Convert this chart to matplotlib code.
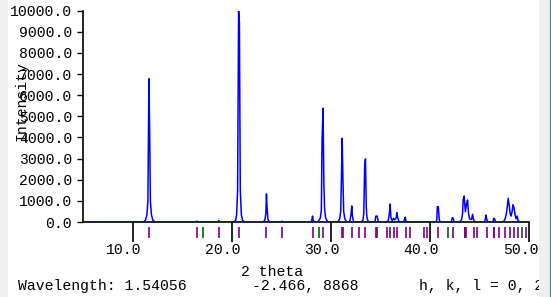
import matplotlib
matplotlib.use("Agg")
import matplotlib.pyplot as plt
from matplotlib.patches import Rectangle
from matplotlib.lines import Line2D
from matplotlib.transforms import ScaledTranslation

two_theta = [
    5.0, 11.1, 11.3, 11.45, 11.55, 11.65, 11.72, 11.8, 11.9, 12.05, 12.3,
    16.4, 16.5, 16.6, 18.6, 18.7, 18.8,
    20.2, 20.4, 20.5, 20.6, 20.7, 20.78, 20.87, 20.98, 21.1, 21.3,
    23.2, 23.35, 23.45, 23.51, 23.56, 23.65, 23.8,
    25.0, 25.08, 25.15,
    28.0, 28.1, 28.16, 28.22, 28.35,
    28.7, 28.95, 29.05, 29.12, 29.22, 29.3, 29.38, 29.48, 29.7,
    30.7, 30.9, 31.0, 31.08, 31.15, 31.22, 31.3, 31.42, 31.6,
    31.85, 31.95, 32.05, 32.12, 32.18, 32.3,
    33.1, 33.25, 33.33, 33.42, 33.5, 33.58, 33.65, 33.8,
    34.45, 34.55, 34.68, 34.8,
    35.6, 35.8, 35.92, 35.99, 36.07, 36.2, 36.33, 36.45, 36.6, 36.67, 36.75, 36.9,
    37.35, 37.45, 37.52, 37.6,
    40.6, 40.7, 40.75, 40.85, 40.95, 41.05,
    42.15, 42.25, 42.35, 42.45,
    43.0, 43.2, 43.3, 43.36, 43.46, 43.58, 43.7, 43.8, 43.9, 44.0, 44.2, 44.31, 44.4, 44.55,
    45.5, 45.6, 45.67, 45.75, 45.85,
    46.35, 46.45, 46.55, 46.65,
    47.4, 47.6, 47.75, 47.9, 48.0, 48.1, 48.18, 48.3, 48.38, 48.5, 48.6, 48.7, 48.8, 48.9, 49.1,
    50.0,
]
counts = [
    0, 0, 80, 350, 1000, 6780, 4450, 1000, 350, 80, 0,
    0, 40, 0, 0, 70, 0,
    0, 80, 330, 1500, 10000, 9430, 1500, 330, 80, 0,
    0, 100, 400, 1330, 800, 150, 0,
    0, 40, 0,
    0, 120, 280, 80, 0,
    0, 190, 570, 3850, 5390, 1860, 570, 190, 0,
    0, 150, 500, 2150, 3965, 2150, 500, 150, 0,
    0, 100, 410, 760, 300, 0,
    0, 100, 410, 2700, 2985, 700, 200, 0,
    0, 280, 280, 0,
    0, 60, 440, 850, 200, 60, 175, 100, 200, 440, 200, 0,
    0, 150, 230, 0,
    0, 100, 725, 725, 100, 0,
    0, 190, 190, 0,
    0, 120, 400, 1075, 1230, 490, 850, 1040, 410, 150, 120, 365, 120, 0,
    0, 150, 330, 100, 0,
    0, 175, 120, 0,
    0, 150, 490, 1120, 800, 400, 280, 500, 820, 650, 330, 150, 280, 60, 0,
    0,
]

# reflection positions
refl_phase1 = [11.65, 16.50, 18.72, 20.74, 23.51, 25.08, 28.21, 29.19, 31.12, 31.20,
               32.19, 32.86, 33.46, 34.57, 34.67, 35.63, 35.99, 36.33, 36.67, 37.55,
               37.95, 39.42, 39.75, 40.86, 42.35, 43.50, 43.58, 43.66, 44.42, 44.78,
               45.73, 46.42, 46.50, 47.02, 47.53, 48.11, 48.51, 48.89, 49.72]
refl_phase2 = [17.10, 28.82, 41.85, 49.26]

x_ticks = [10, 20, 30, 40, 50]
y_ticks = [0, 1000, 2000, 3000, 4000, 5000, 6000, 7000, 8000, 9000, 10000]

W, H = 551, 297
FONT = "Liberation Mono"
FS = 10.6

fig = plt.figure(figsize=(W / 100, H / 100), dpi=100)
ax = fig.add_axes([83 / W, 1 - 222 / H, (529 - 83) / W, (222 - 10.7) / H])

ax.plot(two_theta, counts, color="#0000ff", lw=1.1, zorder=3)
ax.set_xlim(5, 50)
ax.set_ylim(0, 10000)

tr = ax.get_xaxis_transform()
ax.vlines(refl_phase1, -0.024, -0.075, color="#800080", lw=1.2, transform=tr, clip_on=False)
ax.vlines(refl_phase2, -0.024, -0.075, color="#006400", lw=1.2, transform=tr, clip_on=False)

ax.set_xticks(x_ticks)
ax.set_xticklabels([f"{v:.1f}" for v in x_ticks], family=FONT, fontsize=FS)
ax.set_yticks(y_ticks)
ax.set_yticklabels([f"{v:.1f}" for v in y_ticks], family=FONT, fontsize=FS)
ax.tick_params(axis="x", direction="out", length=14.4, width=1.2, pad=1)
ax.tick_params(axis="y", direction="out", length=4.3, width=1.0, pad=3.5)

# the x labels sit a little left of their ticks in the original
shift = ScaledTranslation(-8.5 / 100, 0, fig.dpi_scale_trans)
for lab in ax.get_xticklabels():
    lab.set_transform(lab.get_transform() + shift)

for side in ("top", "right"):
    ax.spines[side].set_visible(False)
ax.spines["left"].set_linewidth(1.2)
ax.spines["bottom"].set_linewidth(1.2)

fig.text(22 / W, 1 - 101 / H, "Intensity", rotation=90, ha="center", va="center",
         fontsize=FS, family=FONT)
fig.text(272 / W, 1 - 272 / H, "2 theta", ha="center", va="center",
         fontsize=FS, family=FONT)
fig.text(18 / W, 1 - 286 / H, "Wavelength: 1.54056", ha="left", va="center",
         fontsize=FS, family=FONT)
fig.text(252 / W, 1 - 286 / H, "-2.466, 8868", ha="left", va="center",
         fontsize=FS, family=FONT)
fig.text(419 / W, 1 - 286 / H, "h, k, l = 0, 2, 0", ha="left", va="center",
         fontsize=FS, family=FONT, zorder=1)

# grey window borders
fig.patches.append(Rectangle((0, 0), 8 / W, 1, transform=fig.transFigure,
                             facecolor="#f0f0f0", edgecolor="none", zorder=10))
fig.patches.append(Rectangle((539 / W, 0), 12 / W, 1, transform=fig.transFigure,
                             facecolor="#f0f0f0", edgecolor="none", zorder=10))
fig.lines.append(Line2D([550 / W, 550 / W], [0, 1], transform=fig.transFigure,
                        color="#3c8ce6", lw=0.9, zorder=11))

fig.savefig("out.png", dpi=100)
